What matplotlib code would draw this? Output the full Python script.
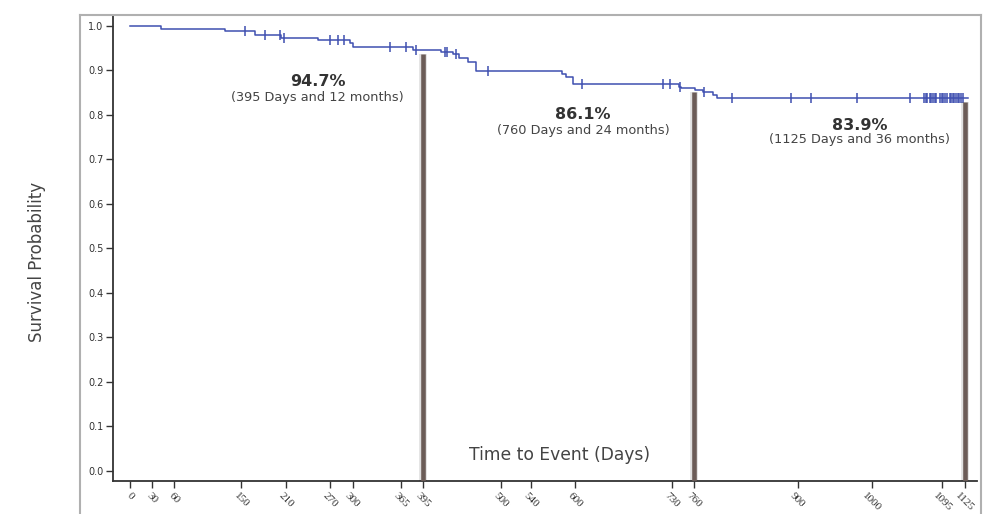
import numpy as np
import matplotlib
matplotlib.use("Agg")
import matplotlib.pyplot as plt

## Kaplan-Meier curve (days, survival after the step)

step_days = [0, 42, 128, 169, 204, 254, 297, 301, 382, 419, 436, 443, 456, 466,
             583, 588, 597, 740, 743, 762, 773, 786, 791]
step_surv = [1.0, 0.9925, 0.988, 0.9805, 0.973, 0.9685, 0.961, 0.9535, 0.947, 0.942,
             0.936, 0.929, 0.920, 0.899, 0.892, 0.885, 0.869, 0.864, 0.861, 0.856,
             0.851, 0.846, 0.839]
last_day = 1130

# censored observations
censor_days = [155, 182, 202, 207, 270, 281, 288, 351, 372, 386, 424, 427, 439, 483,
               609, 718, 728, 741, 774, 812, 891, 918, 980, 1052,
               1071, 1073, 1075, 1078, 1080, 1082, 1085, 1087, 1092, 1094, 1096,
               1099, 1101, 1105, 1107, 1109, 1111, 1114, 1116, 1118, 1120, 1123]

# marked time points
mark_days = [395, 760, 1125]
mark_pct = ["94.7%", "86.1%", "83.9%"]
mark_sub = ["(395 Days and 12 months)", "(760 Days and 24 months)",
            "(1125 Days and 36 months)"]

xticks = [0, 30, 60, 150, 210, 270, 300, 365, 395, 500, 540, 600, 730, 760,
          900, 1000, 1095, 1125]
yticks = [0.0, 0.1, 0.2, 0.3, 0.4, 0.5, 0.6, 0.7, 0.8, 0.9, 1.0]

## layout
W, H = 983, 514
x_lo, x_hi = -22.9, 1141.8
y_lo, y_hi = -0.0225, 1.0247

blue = "#3f4fb0"
brown = "#6b5c57"

fig = plt.figure(figsize=(W / 100, H / 100), dpi=100)
ax = fig.add_axes([113 / W, (H - 481) / H, (977 - 113) / W, (481 - 15) / H])

# outer grey frame
fig.add_artist(plt.Line2D([80 / W, 80 / W], [0, (H - 15) / H], color="#b0b0b0", lw=1.5))
fig.add_artist(plt.Line2D([80 / W, 981 / W], [(H - 15) / H, (H - 15) / H], color="#b0b0b0", lw=1.5))
fig.add_artist(plt.Line2D([981 / W, 981 / W], [0, (H - 15) / H], color="#b0b0b0", lw=1.5))

## curve
xs = step_days + [last_day]
ys = step_surv + [step_surv[-1]]
ax.step(xs, ys, where="post", color=blue, lw=1.1)

idx = np.searchsorted(step_days, censor_days, side="right") - 1
censor_surv = np.array(step_surv)[idx]
ax.plot(censor_days, censor_surv, "|", color=blue, ms=6.5, mew=1.1)

## vertical bars at the marked points
idx_m = np.searchsorted(step_days, mark_days, side="right") - 1
mark_surv = np.array(step_surv)[idx_m]
tops = mark_surv - 0.01
ax.vlines(mark_days, y_lo, tops, color="#000000", lw=5.5, alpha=0.12, zorder=3)
ax.vlines(mark_days, y_lo, tops, color=brown, lw=3.3, zorder=4)

# labels next to the bars
lab_x = [253, 611, 984]
lab_y = [0.876, 0.802, 0.7775]
sub_y = [0.840, 0.765, 0.745]
for i in range(len(mark_days)):
    ax.text(lab_x[i], lab_y[i], mark_pct[i], ha="center", va="center",
            fontsize=11.5, fontweight="bold", color="#333333")
    ax.text(lab_x[i], sub_y[i], mark_sub[i], ha="center", va="center",
            fontsize=9.3, color="#444444")

ax.text(0.517, 0.056, "Time to Event (Days)", transform=ax.transAxes,
        ha="center", va="center", fontsize=12.3, color="#444444")
fig.text(37 / W, 1 - 262 / H, "Survival Probability", rotation=90,
         ha="center", va="center", fontsize=12, color="#444444")

## axes
ax.set_xlim(x_lo, x_hi)
ax.set_ylim(y_lo, y_hi)
ax.set_xticks(xticks)
ax.set_xticklabels([str(t) for t in xticks], rotation=-45, ha="center", va="top",
                   fontsize=8, family="Liberation Serif", color="#333333")
ax.set_yticks(yticks)
ax.set_yticklabels([f"{t:.1f}" for t in yticks], fontsize=7, color="#333333")
ax.tick_params(axis="x", length=5, width=1, color="#333333", pad=2)
ax.tick_params(axis="y", length=5, width=1, color="#333333", pad=2)

for s in ["top", "right"]:
    ax.spines[s].set_visible(False)
for s in ["left", "bottom"]:
    ax.spines[s].set_color("#333333")
    ax.spines[s].set_linewidth(1.3)

fig.savefig("out.png", dpi=100)
